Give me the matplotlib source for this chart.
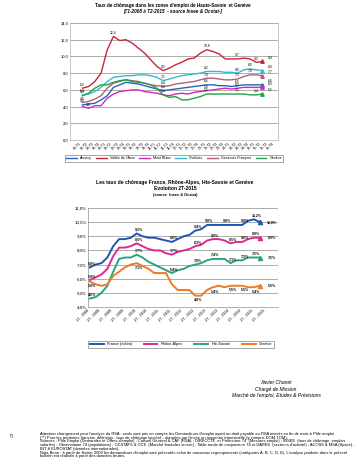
import matplotlib
matplotlib.use("Agg")
import matplotlib.pyplot as plt
import numpy as np

plt.rcParams['font.family'] = ['Liberation Sans', 'DejaVu Sans']

# ---- chart 1 : zones d'emploi (T1-2008 .. T2-2015)
quarters1 = [f"{y:02d}-T{q}" for y in range(8, 16) for q in range(1, 5)]
zones = ["Annecy", "Vallée de l'Arve", "Mont Blanc", "Chablais", "Genevois Français", "Genève"]
annecy = [4.2, 4.3, 4.4, 4.8, 5.3, 6.3, 6.6, 6.9, 6.8, 6.7, 6.5, 6.3, 6.1, 5.9, 6.0,
          6.1, 6.2, 6.3, 6.4, 6.5, 6.6, 6.6, 6.5, 6.5, 6.4, 6.5, 6.6, 6.6, 6.6, 6.6]
arve = [6.2, 6.4, 7.0, 8.0, 10.8, 12.4, 11.9, 12.0, 11.6, 11.0, 10.4, 9.6, 8.8, 8.3, 8.6,
        9.0, 9.3, 9.7, 9.8, 10.4, 10.8, 10.6, 10.3, 9.7, 9.7, 9.7, 9.8, 9.7, 9.3, 9.4]
montblanc = [4.0, 3.8, 4.1, 4.1, 5.0, 5.5, 5.8, 5.9, 6.0, 6.0, 5.8, 5.7, 5.6, 5.4, 5.3,
             5.5, 5.6, 5.5, 5.7, 5.8, 5.9, 6.0, 6.1, 6.2, 6.1, 6.2, 6.3, 6.3, 6.3, 6.3]
chablais = [5.4, 5.5, 5.8, 6.3, 7.0, 7.5, 7.6, 7.7, 7.7, 7.8, 7.8, 7.7, 7.5, 7.1, 7.3,
            7.5, 7.7, 7.8, 7.9, 8.0, 8.2, 8.2, 8.2, 8.1, 8.1, 8.0, 8.4, 8.5, 8.4, 8.3]
genevois = [4.5, 4.6, 4.9, 5.3, 6.2, 6.8, 7.0, 7.2, 7.1, 7.0, 6.8, 6.6, 6.5, 6.4, 6.5,
            6.7, 6.8, 6.9, 7.0, 7.2, 7.4, 7.4, 7.3, 7.2, 7.2, 7.3, 7.6, 7.8, 7.8, 7.7]
geneve1 = [5.3, 5.6, 6.2, 6.6, 6.6, 6.9, 7.1, 7.2, 7.0, 6.9, 6.8, 6.6, 6.2, 5.4, 5.1,
           5.2, 4.8, 4.8, 5.0, 5.2, 5.5, 5.5, 5.5, 5.5, 5.5, 5.5, 5.5, 5.4, 5.4, 5.5]
series1 = [annecy, arve, montblanc, chablais, genevois, geneve1]
colors1 = ["#2a62c0", "#c8243c", "#d12ab8", "#35b9d2", "#b0607e", "#22a346"]
labels1 = [[0, 13, 20, 25, 29], [0, 5, 13, 20, 25, 28, 29], [1, 20, 25, 29],
           [0, 13, 20, 25, 27, 29], [0, 13, 20, 25, 27, 29], [0, 13, 20, 25, 28, 29]]

# ---- chart 2 : France, Rhône-Alpes, Hte-Savoie, Genève
quarters2 = [f"{q}T - {y}" for y in range(2008, 2016) for q in range(1, 5)][:31]
regions = ["France (métro)", "Rhône-Alpes", "Hte-Savoie", "Genève"]
france = [6.8, 7.0, 7.1, 7.5, 8.3, 8.8, 8.8, 8.9, 9.2, 9.0, 8.9, 8.9, 8.8, 8.7, 8.6,
          8.8, 9.0, 9.1, 9.4, 9.5, 9.8, 9.8, 9.8, 9.8, 9.8, 9.8, 9.8, 10.1, 10.2, 10.0]
rhone = [5.9, 6.1, 6.3, 6.7, 7.6, 8.2, 8.2, 8.3, 8.5, 8.3, 8.1, 8.0, 8.0, 7.8, 7.7,
         7.9, 8.0, 8.1, 8.3, 8.4, 8.7, 8.8, 8.8, 8.7, 8.5, 8.6, 8.6, 8.8, 8.9, 8.9]
hsavoie = [4.6, 4.7, 5.0, 5.5, 6.5, 7.4, 7.5, 7.5, 7.7, 7.5, 7.2, 7.0, 6.8, 6.6, 6.4,
           6.6, 6.7, 6.9, 7.0, 7.1, 7.3, 7.4, 7.4, 7.4, 7.1, 7.3, 7.3, 7.5, 7.5, 7.5]
geneve2 = [5.8, 5.6, 5.5, 5.6, 6.2, 6.5, 6.8, 7.0, 7.1, 6.9, 6.7, 6.4, 6.4, 6.4, 5.6,
           5.2, 5.2, 5.2, 4.8, 4.8, 5.2, 5.4, 5.5, 5.4, 5.5, 5.5, 5.5, 5.4, 5.4, 5.5]
series2 = [france, rhone, hsavoie, geneve2]
colors2 = ["#1f55b5", "#e0288e", "#27a386", "#f07a22"]
labels2 = [[0, 8, 14, 18, 20, 23, 26, 28], [0, 8, 14, 18, 21, 24, 26, 28],
           [0, 8, 14, 18, 21, 24, 26, 28], [0, 8, 18, 21, 24, 26, 28]]
above2 = [True, True, True, False]

fig = plt.figure(figsize=(3.6, 4.73), dpi=100)
W, H = 360, 473

def add_ax(l, t, r, b):
    return fig.add_axes([l / W, 1 - b / H, (r - l) / W, (b - t) / H])

# ---------- top chart
ax1 = add_ax(70, 23, 278, 140)
x1 = np.arange(len(arve))
for s, c, name, idx in zip(series1, colors1, zones, labels1):
    ax1.plot(x1, s, color=c, lw=1.0, label=name)
    ax1.plot(x1[-1], s[-1], marker="^", ms=2.5, color=c)
    for i in idx:
        ax1.text(x1[i] if i < len(s) - 1 else x1[i] + 1.3, s[i] + 0.25,
                 f"{s[i]:.1f}".replace(".", ","), fontsize=2.4, ha="center", va="bottom")
ax1.set_ylim(0, 14)
ax1.set_yticks(np.arange(0, 15, 2))
ax1.set_yticklabels([f"{v:.1f}".replace(".", ",") for v in np.arange(0, 15, 2)], fontsize=3)
ax1.set_xlim(-2, 31.5)
ax1.set_xticks(np.arange(len(quarters1)))
ax1.set_xticklabels(quarters1, rotation=45, ha="right", fontsize=2.5)
ax1.grid(axis="y", color="#a0a0a0", lw=0.6)
ax1.tick_params(length=0, pad=1)
for sp in ax1.spines.values():
    sp.set_color("#b0b0b0")
    sp.set_linewidth(0.5)
ax1.legend(loc="center", bbox_to_anchor=(0.5, -0.155), ncol=6, fontsize=2.6,
           frameon=True, fancybox=False, edgecolor="#404040", handlelength=3,
           columnspacing=1.2, borderpad=0.4).get_frame().set_linewidth(0.4)

fig.text(173 / W, 1 - 6 / H, "Taux de chômage dans les zones d'emploi de Haute-Savoie  et Genève",
         ha="center", va="center", fontsize=3.3, weight="bold")
fig.text(173 / W, 1 - 12 / H, "[T1-2008 à T2-2015  - source Insee & Ocstat-]",
         ha="center", va="center", fontsize=3.3, weight="bold", style="italic")

# ---------- bottom chart
ax2 = add_ax(88, 208, 278, 307)
x2 = np.arange(len(france))
for s, c, name, idx, up in zip(series2, colors2, regions, labels2, above2):
    ax2.plot(x2, s, color=c, lw=1.4, label=name)
    ax2.plot(x2[-1], s[-1], marker="^", ms=3, color=c)
    for i in idx:
        ax2.text(x2[i] + 0.4, s[i] + (0.15 if up else -0.15), f"{s[i]:.1f}%".replace(".", ","),
                 fontsize=2.5, ha="center", va="bottom" if up else "top", weight="bold")
    ax2.text(x2[-1] + 2.0, s[-1], f"{s[-1]:.1f}%".replace(".", ","),
             fontsize=2.5, ha="center", va="center", weight="bold")
ax2.set_ylim(4, 11)
ax2.set_yticks(np.arange(4, 12))
ax2.set_yticklabels([f"{v:.1f}%".replace(".", ",") for v in np.arange(4, 12)], fontsize=3.2)
ax2.set_xlim(-0.3, 32.1)
ax2.set_xticks(np.arange(0, len(quarters2), 2))
ax2.set_xticklabels(quarters2[::2], rotation=45, ha="right", fontsize=2.7)
ax2.grid(axis="y", color="#a0a0a0", lw=0.6)
ax2.tick_params(length=0, pad=1)
for sp in ax2.spines.values():
    sp.set_visible(False)
for side in ["left", "bottom"]:
    ax2.spines[side].set_visible(True)
    ax2.spines[side].set_color("#909090")
    ax2.spines[side].set_linewidth(0.5)
ax2.legend(loc="center", bbox_to_anchor=(0.49, -0.375), ncol=4, fontsize=2.8,
           frameon=True, fancybox=False, edgecolor="#404040", handlelength=3.5,
           columnspacing=3, borderpad=0.4).get_frame().set_linewidth(0.4)

fig.text(175 / W, 1 - 182 / H, "Les taux de chômage France, Rhône-Alpes, Hte-Savoie et Genève",
         ha="center", va="center", fontsize=3.6, weight="bold")
fig.text(175 / W, 1 - 189 / H, "Evolution 2T-2015", ha="center", va="center",
         fontsize=3.6, weight="bold")
fig.text(175 / W, 1 - 195 / H, "(source  Insee & Ocstat)", ha="center", va="center",
         fontsize=2.8, weight="bold")

# ---------- signature
for y, t in [(383, "Xavier Chanet"), (389, "Chargé de Mission"),
             (395, "Marché de l'emploi, Etudes & Prévisions")]:
    fig.text(276 / W, 1 - y / H, t, ha="center", va="center", fontsize=3.6, style="italic")

# ---------- footnote
fig.text(10 / W, 1 - 436 / H, "(*)", fontsize=2.9, va="center")
notes = [
    "Attention changement pour l'analyse du RSA : seuls sont pris en compte les Demandeurs d'emploi ayant un droit payable au RSA inscrits en fin de mois à Pôle emploi",
    "(**) Pour les territoires français, définition - taux de chômage localisé - données par l'Insee en moyenne trimestrielle (y compris DOM-TOM).",
    "Sources : Pôle Emploi (Demandes et Offres d'emploi) ; Conseil Général & CAF (RSA) ; DIRECCTE  et Préfecture 74  (Mesures emploi) ; INSEE  (taux de chômage, emplois",
    "salariés) ; Observatoire 74 (populations) ; OCSTATS & OCE  (Marché frontalier suisse) ; Table ronde de conjoncture 74 et DARES  (secteurs d'activité) ; ACOSS & MSA (Space) ;",
    "INT & EUROSTAT (données internationales).",
    "Nota Bene : à partir de février 2009 les demandeurs d'emploi sont présentés selon de nouveaux regroupements (catégories A, B, C, D, E). L'analyse produite dans le présent",
    "bulletin est réalisée à partir des données brutes.",
]
for k, t in enumerate(notes):
    fig.text(40 / W, 1 - (434 + k * 3.7) / H, t, fontsize=2.9, va="center")

fig.savefig("out.png", dpi=100)
